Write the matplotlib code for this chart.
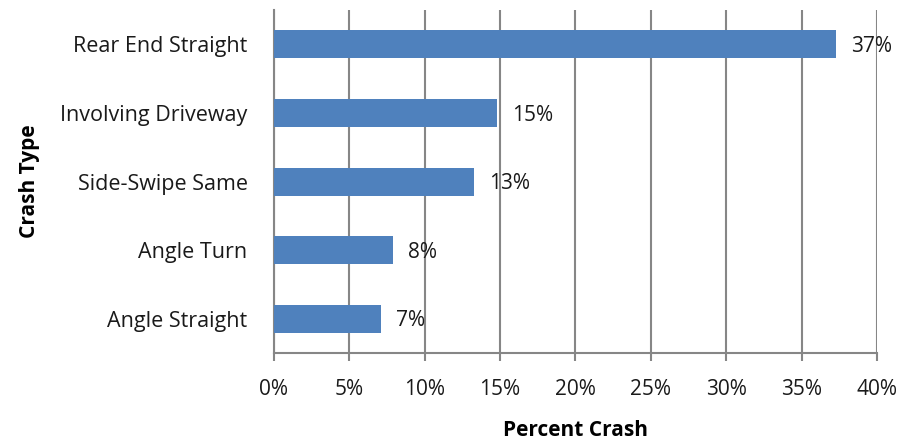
import matplotlib.pyplot as plt

# Crash types from bottom to top, and their share of crashes (%)
crash_types = ['Angle Straight', 'Angle Turn', 'Side-Swipe Same',
               'Involving Driveway', 'Rear End Straight']
percent = [7.1, 7.9, 13.3, 14.8, 37.3]
labels = ['7%', '8%', '13%', '15%', '37%']
ticks = [0, 5, 10, 15, 20, 25, 30, 35, 40]

plt.rcParams['font.family'] = ['Open Sans', 'DejaVu Sans']
txt = '#1a1a1a'

fig = plt.figure(figsize=(9.06, 4.41), dpi=100)
ax = fig.add_axes([0.3024, 0.1995, 0.6655, 0.7775])

y = range(len(crash_types))
ax.barh(y, percent, height=0.41, color='#4F81BD', zorder=3)

for yi, v, lab in zip(y, percent, labels):
    ax.text(v + 1.0, yi - 0.03, lab, va='center', ha='left', fontsize=15,
            color=txt, zorder=4)

ax.set_xlim(0, 40)
ax.set_ylim(-0.5, 4.5)
ax.set_xticks(ticks)
ax.set_xticklabels([f'{t}%' for t in ticks], fontsize=15, color=txt)
ax.set_yticks(list(y))
ax.set_yticklabels(crash_types, fontsize=15.5, color=txt)

ax.grid(axis='x', color='#868686', linewidth=1.5, zorder=0)
for side in ['top', 'right']:
    ax.spines[side].set_visible(False)
for side in ['left', 'bottom']:
    ax.spines[side].set_color('#868686')
    ax.spines[side].set_linewidth(1.5)

ax.tick_params(axis='x', length=6, width=1.5, color='#868686', pad=13)
ax.tick_params(axis='y', length=0, pad=19)

ax.set_xlabel('Percent Crash', fontsize=15, fontweight='bold', labelpad=14)
ax.set_ylabel('Crash Type', fontsize=15, fontweight='bold', labelpad=15)

fig.savefig('out.png', dpi=100)
